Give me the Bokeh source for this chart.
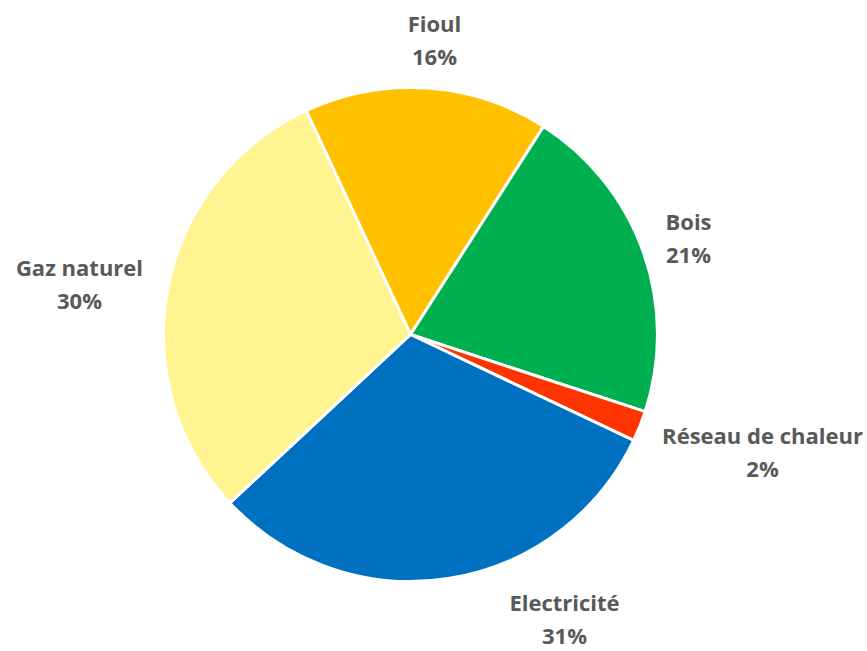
import math
from bokeh.plotting import figure
from bokeh.models import ColumnDataSource, Range1d
from bokeh.core.properties import value
from bokeh.embed import file_html
from bokeh.resources import INLINE

# Data
categories = ["Fioul", "Bois", "Réseau de chaleur", "Electricité", "Gaz naturel"]
shares = [16, 21, 2, 31, 30]
colors = ["#FFC000", "#00B050", "#FF3300", "#0070C0", "#FFF48F"]

# Layout (pixel space, y measured from top)
W, H = 867, 651
CX, CY, R = 410, 334, 247
START_DEG = 25  # first slice begins 25 deg left of 12 o'clock
label_pos = [(434, 22), (688, 220), (762, 434), (564, 601), (79, 266)]
LINE_GAP = 33

total = float(sum(shares))
starts, ends = [], []
cum = 0.0
for s in shares:
    a0 = math.radians(90 + START_DEG - cum / total * 360)
    cum += s
    a1 = math.radians(90 + START_DEG - cum / total * 360)
    starts.append(a0)
    ends.append(a1)

src = ColumnDataSource(dict(cat=categories, share=shares, color=colors,
                            start=starts, end=ends,
                            x=[CX] * len(shares), y=[H - CY] * len(shares)))

p = figure(width=W, height=H, output_backend="svg", toolbar_location=None,
           x_range=Range1d(0, W), y_range=Range1d(0, H), min_border=0)
p.axis.visible = False
p.grid.visible = False
p.outline_line_color = None
p.background_fill_color = "white"
p.border_fill_color = "white"

p.wedge(x="x", y="y", radius=R, start_angle="start", end_angle="end",
        direction="clock", fill_color="color", line_color="white",
        line_width=3, source=src)

lx = [lp[0] for lp in label_pos]
ly1 = [H - lp[1] for lp in label_pos]
ly2 = [H - lp[1] - LINE_GAP for lp in label_pos]
pct = [f"{round(s / total * 100)}%" for s in shares]

common = dict(text_font=value("Open Sans"), text_font_size="22px",
              text_font_style="bold", text_color="#595959",
              text_align="center", text_baseline="middle")
p.text(x=lx, y=ly1, text=categories, **common)
p.text(x=lx, y=ly2, text=pct, **common)

open("out.html", "w").write(file_html(p, INLINE))
